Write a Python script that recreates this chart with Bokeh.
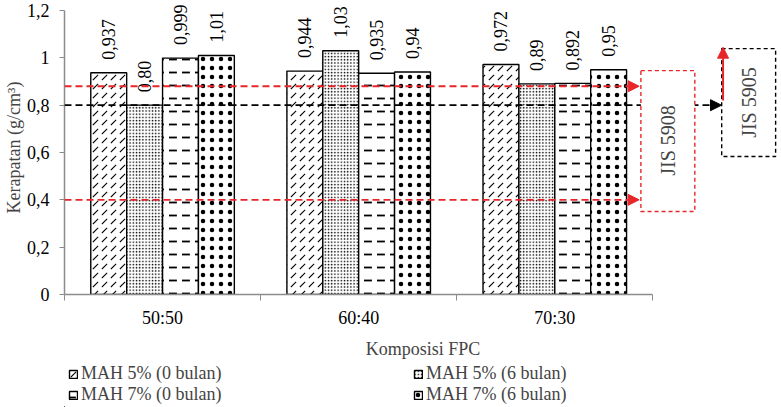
from math import pi

from bokeh.core.properties import value
from bokeh.embed import file_html
from bokeh.layouts import column
from bokeh.models import (Arrow, BoxAnnotation, ColumnDataSource, FixedTicker,
                          Label, LabelSet, Legend, LegendItem, NormalHead, Range1d)
from bokeh.plotting import figure
from bokeh.resources import INLINE

# ---- data ----
compositions = ["50:50", "60:40", "70:30"]
series_names = ["MAH 5% (0 bulan)", "MAH 5% (6 bulan)",
                "MAH 7% (0 bulan)", "MAH 7% (6 bulan)"]
mah5_0bulan = [0.937, 0.944, 0.972]
mah5_6bulan = [0.80, 1.03, 0.89]
mah7_0bulan = [0.999, 0.935, 0.892]
mah7_6bulan = [1.01, 0.94, 0.95]
mah5_0bulan_text = ["0,937", "0,944", "0,972"]
mah5_6bulan_text = ["0,80", "1,03", "0,89"]
mah7_0bulan_text = ["0,999", "0,935", "0,892"]
mah7_6bulan_text = ["1,01", "0,94", "0,95"]
y_ticks = [0, 0.2, 0.4, 0.6, 0.8, 1.0, 1.2]
y_tick_labels = ["0", "0,2", "0,4", "0,6", "0,8", "1", "1,2"]
jis5908_low, jis5908_high = 0.40, 0.88   # JIS A 5908 density range
jis5905_low = 0.80                       # JIS A 5905 minimum density

FONT = "Liberation Serif"
GREY = "#8c8c8c"
RED = "#e8262a"

# bar fill styles, one per series
bar_styles = [
    dict(hatch_pattern=",", hatch_scale=9, hatch_weight=1.1),
    dict(hatch_pattern=".", hatch_scale=3.2, hatch_weight=1.1),
    dict(hatch_pattern='"', hatch_scale=13, hatch_weight=1.8),
    dict(hatch_pattern=".", hatch_scale=9, hatch_weight=0.4),
]
common_bar = dict(fill_color="white", line_color="black", line_width=1.4,
                  hatch_color="black")

# ---- main figure ----
p = figure(width=781, height=361, output_backend="svg", toolbar_location=None,
           x_range=Range1d(0, 3.656), y_range=Range1d(0, 1.2423),
           min_border_left=62, min_border_right=0, min_border_top=0,
           min_border_bottom=67)
p.outline_line_color = None
p.grid.visible = False

cat_x = [i + 0.5 for i in range(len(compositions))]
values = [mah5_0bulan, mah5_6bulan, mah7_0bulan, mah7_6bulan]
texts = [mah5_0bulan_text, mah5_6bulan_text, mah7_0bulan_text, mah7_6bulan_text]
bar_w = 0.183
offsets = [-1.5 * bar_w, -0.5 * bar_w, 0.5 * bar_w, 1.5 * bar_w]

sources = []
for vals, txt, off, style in zip(values, texts, offsets, bar_styles):
    src = ColumnDataSource(dict(x=[c + off for c in cat_x], top=vals, label=txt))
    sources.append(src)
    p.vbar(x="x", top="top", width=bar_w, source=src, **common_bar, **style)
    p.add_layout(LabelSet(x="x", y="top", text="label", source=src,
                          angle=pi / 2, text_align="left", text_baseline="middle",
                          y_offset=13, text_font=value(FONT),
                          text_font_size="18px", text_color="black"))

# ---- reference lines and standard boxes (drawn in stacking order) ----
p.add_layout(Arrow(x_start=0, y_start=jis5905_low, x_end=3.35, y_end=jis5905_low,
                   line_color="black", line_width=1.8, line_dash="7 4",
                   end=NormalHead(size=11, fill_color="black", line_color="black")))

p.add_layout(BoxAnnotation(left=2.939, right=3.214, bottom=0.351, top=0.946,
                           fill_color="white", fill_alpha=1, line_alpha=1,
                           line_color=RED, line_width=1.4, line_dash="4 3"))
p.add_layout(BoxAnnotation(left=3.351, right=3.626, bottom=0.583, top=1.039,
                           fill_color="white", fill_alpha=1, line_alpha=1,
                           line_color="black", line_width=1.4, line_dash="4 3"))

for lvl in (jis5908_high, jis5908_low):
    p.add_layout(Arrow(x_start=0, y_start=lvl, x_end=2.93, y_end=lvl,
                       line_color=RED, line_width=1.8, line_dash="7 4",
                       end=NormalHead(size=11, fill_color=RED, line_color=RED)))

p.add_layout(Arrow(x_start=3.358, y_start=jis5905_low + 0.02, x_end=3.358, y_end=1.045,
                   line_color=RED, line_width=2,
                   end=NormalHead(size=11, fill_color=RED, line_color=RED)))

p.add_layout(Label(x=3.076, y=0.651, text="JIS 5908", angle=pi / 2,
                   text_align="center", text_baseline="middle",
                   text_font=FONT, text_font_size="20px"))
p.add_layout(Label(x=3.488, y=0.811, text="JIS 5905", angle=pi / 2,
                   text_align="center", text_baseline="middle",
                   text_font=FONT, text_font_size="20px"))

# ---- axes ----
xa = p.xaxis[0]
xa.bounds = (0, 3)
xa.ticker = FixedTicker(ticks=cat_x, minor_ticks=[0, 1, 2, 3])
xa.major_label_overrides = {c: name for c, name in zip(cat_x, compositions)}
xa.major_tick_out = 0
xa.major_tick_in = 0
xa.minor_tick_out = 6
xa.minor_tick_in = 0
xa.minor_tick_line_color = GREY
xa.axis_line_color = GREY
xa.axis_line_width = 1.5
xa.major_label_standoff = 7
xa.major_label_text_font = FONT
xa.major_label_text_font_size = "18px"
xa.major_label_text_color = "black"
xa.axis_label = "Komposisi FPC"
xa.axis_label_text_font = FONT
xa.axis_label_text_font_size = "18px"
xa.axis_label_text_font_style = "normal"
xa.axis_label_standoff = 8

ya = p.yaxis[0]
ya.bounds = (0, 1.2)
ya.ticker = FixedTicker(ticks=y_ticks, minor_ticks=[])
ya.major_label_overrides = {t: s for t, s in zip(y_ticks, y_tick_labels)}
ya.major_tick_out = 5
ya.major_tick_in = 0
ya.major_tick_line_color = GREY
ya.axis_line_color = GREY
ya.axis_line_width = 1.5
ya.major_label_standoff = 10
ya.major_label_text_font = FONT
ya.major_label_text_font_size = "18px"
ya.major_label_text_color = "black"
ya.axis_label = "Kerapatan (g/cm³)"
ya.axis_label_text_font = FONT
ya.axis_label_text_font_size = "18px"
ya.axis_label_text_font_style = "normal"
ya.axis_label_standoff = 0

# ---- legend strip: two columns (0 bulan left, 6 bulan right) ----
# The same series are plotted here outside the visible window, so only
# their legend swatches show.
leg = figure(width=781, height=46, output_backend="svg", toolbar_location=None,
             x_axis_type=None, y_axis_type=None,
             x_range=Range1d(100, 101), y_range=Range1d(5, 6),
             min_border=0, min_border_left=0, min_border_right=0,
             min_border_top=0, min_border_bottom=0)
leg.grid.visible = False
leg.outline_line_color = None

legend_items = {}
for name, style, src in zip(series_names, bar_styles, sources):
    r = leg.vbar(x="x", top="top", width=bar_w, source=src, **common_bar, **style)
    legend_items[name] = LegendItem(label=name, renderers=[r])

legend_order = ["MAH 5% (0 bulan)", "MAH 7% (0 bulan)",
                "MAH 5% (6 bulan)", "MAH 7% (6 bulan)"]
legend = Legend(items=[legend_items[n] for n in legend_order],
                orientation="vertical", ncols=2,
                location=(4, 2), margin=0, padding=0, spacing=0,
                glyph_width=10, glyph_height=10, label_standoff=3,
                label_width=332, label_height=14,
                label_text_font=FONT, label_text_font_size="18px",
                border_line_color=None, background_fill_alpha=0)
leg.add_layout(legend)

open("out.html", "w").write(file_html(column(p, leg, spacing=0), INLINE))
